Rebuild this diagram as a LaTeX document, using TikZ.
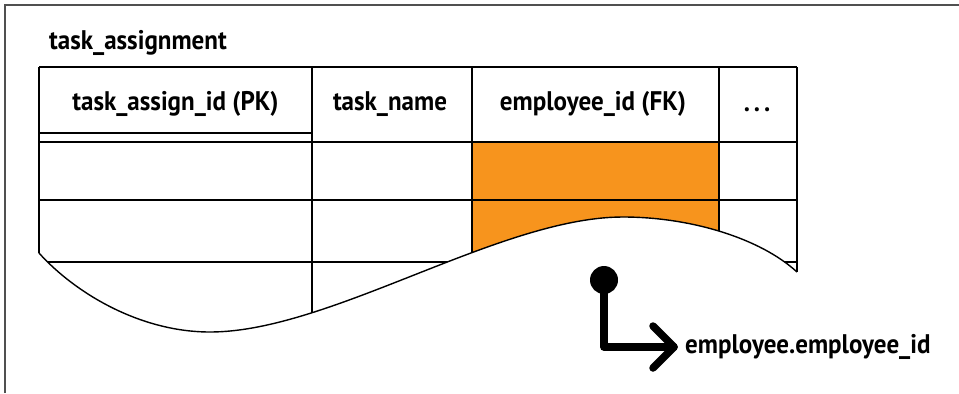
\documentclass[tikz,border=0pt]{standalone}
\usepackage{fontspec}
\setmainfont{PT Sans}[FakeStretch=0.93]
\definecolor{fkorange}{HTML}{F7941D}
\definecolor{framegray}{HTML}{505050}
\begin{document}
\begin{tikzpicture}[x=1bp,y=-1bp,
  gridline/.style={line width=1.4bp,black},
  lbl/.style={font=\bfseries\fontsize{27}{30}\selectfont,inner sep=0pt},
  conn/.style={line width=7.5bp,line cap=round,line join=round},
  dotnode/.style={circle,fill=black,minimum size=28bp,inner sep=0pt}]
\useasboundingbox (0,0) rectangle (959,393);
% outer frame (partly out of view)
\draw[framegray,line width=1.5bp] (5,393) -- (5,5) -- (959,5);
% clipped table body
\begin{scope}
  \clip (0,0) -- (900,0) -- (900,272) -- (797,272)
     .. controls (760,238) and (690,217) .. (623,217)
     .. controls (500,217) and (330,332) .. (210,332)
     .. controls (140,332) and (75,293) .. (39,253) -- (0,253) -- cycle;
  \fill[fkorange] (472,142) rectangle (719,400);
  \draw[gridline] (39,67) -- (797,67);
  \draw[gridline] (39,133) -- (312,133);
  \draw[gridline] (39,142) -- (797,142);
  \draw[gridline] (39,200) -- (797,200);
  \draw[gridline] (39,262) -- (797,262);
  \draw[gridline] (312,67) -- (312,400);
  \draw[gridline] (472,67) -- (472,400);
  \draw[gridline] (719,67) -- (719,400);
\end{scope}
\draw[gridline] (39,67) -- (39,253);
\draw[gridline] (797,67) -- (797,272);
\draw[gridline,line join=round] (39,253)
     .. controls (75,293) and (140,332) .. (210,332)
     .. controls (330,332) and (500,217) .. (623,217)
     .. controls (690,217) and (760,238) .. (797,272);
% texts
\node[lbl,anchor=base west] (title) at (49,49) {task\_assignment};
\node[lbl,anchor=base] (h1) at (175.5,110) {task\_assign\_id (PK)};
\node[lbl,anchor=base] (h2) at (390,110) {task\_name};
\node[lbl,anchor=base] (h3) at (593,110) {employee\_id (FK)};
\node[lbl,anchor=base] (h4) at (757,111) {.\hspace{4bp}.\hspace{4bp}.};
% foreign key reference
\node[dotnode] (dot) at (604,280) {};
\coordinate (tip) at (674,347);
\node[lbl,anchor=base west] (target) at (685,353) {employee.employee\_id};
\draw[conn] (dot.center) |- (tip);
\draw[conn] ([shift={(-21,-21)}]tip) -- (tip) -- ([shift={(-21,21)}]tip);
\end{tikzpicture}
\end{document}
